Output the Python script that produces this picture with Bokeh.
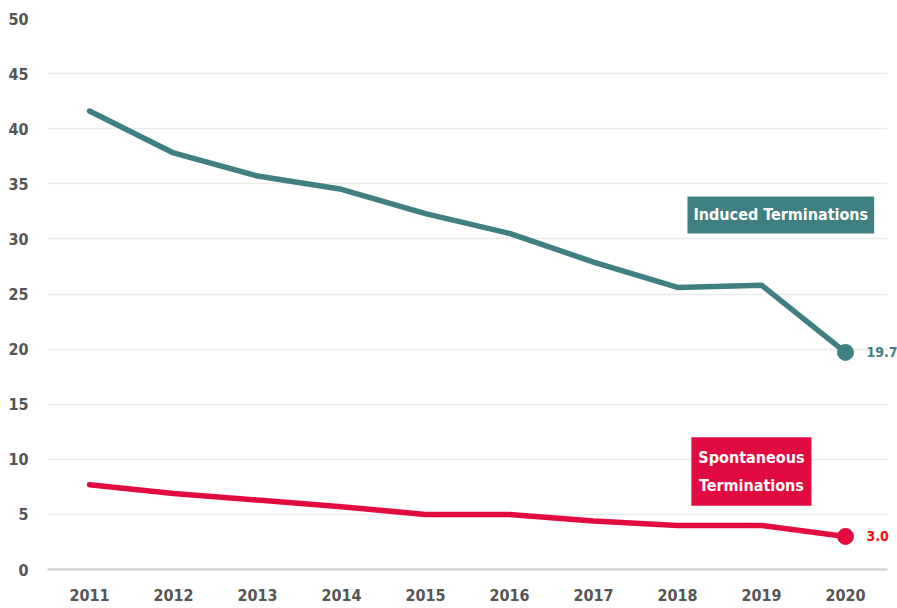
from bokeh.plotting import figure
from bokeh.models import Range1d, Label, FixedTicker
from bokeh.embed import file_html
from bokeh.resources import INLINE

years = [2011, 2012, 2013, 2014, 2015, 2016, 2017, 2018, 2019, 2020]
year_labels = ["2011", "2012", "2013", "2014", "2015", "2016", "2017", "2018", "2019", "2020"]
induced = [41.6, 37.8, 35.7, 34.5, 32.3, 30.5, 27.9, 25.6, 25.8, 19.7]
spontaneous = [7.7, 6.9, 6.3, 5.7, 5.0, 5.0, 4.4, 4.0, 4.0, 3.0]
y_ticks = [0, 5, 10, 15, 20, 25, 30, 35, 40, 45, 50]

TEAL = "#407f82"
RED = "#e20b40"
FONT = "DejaVu Sans Condensed"

x_lo = years[0] - 0.5
x_hi = years[-1] + 0.5
# frame: 850 px wide, 84 px per year -> small extra room right of the last cell
p = figure(width=897, height=607, x_range=Range1d(x_lo, x_lo + 850 / 84), y_range=Range1d(0, 50),
           output_backend="svg", toolbar_location=None,
           min_border_left=47, min_border_right=0, min_border_top=18, min_border_bottom=38)
p.outline_line_color = None
p.background_fill_color = "white"
p.border_fill_color = "white"

p.xgrid.grid_line_color = None
p.ygrid.grid_line_color = "#e9e9e9"
p.ygrid.grid_line_width = 1.5
p.ygrid.cross_bounds = (x_lo, x_hi)
p.yaxis.ticker = y_ticks
p.xaxis.ticker = FixedTicker(ticks=years)
p.xaxis.major_label_overrides = {y: s for y, s in zip(years, year_labels)}
p.xaxis.bounds = (x_lo, x_hi)
p.yaxis.axis_line_color = None
p.xaxis.axis_line_color = "#d4d4d4"
p.xaxis.axis_line_width = 2.5
for ax in (p.xaxis, p.yaxis):
    ax.major_tick_line_color = None
    ax.minor_tick_line_color = None
    ax.major_tick_out = 0
    ax.major_tick_in = 0
    ax.minor_tick_out = 0
    ax.minor_tick_in = 0
    ax.major_label_text_font = FONT
    ax.major_label_text_font_style = "bold"
    ax.major_label_text_font_size = "16px"
    ax.major_label_text_color = "#555555"
p.yaxis.major_label_standoff = 19
p.xaxis.major_label_standoff = 19

p.line(years, induced, line_color=TEAL, line_width=5.5, line_cap="round", line_join="round")
p.line(years, spontaneous, line_color=RED, line_width=5.5, line_cap="round", line_join="round")

p.scatter([years[-1]], [induced[-1]], size=16, color=TEAL)
p.scatter([years[-1]], [spontaneous[-1]], size=16, color=RED)

p.add_layout(Label(x=years[-1], y=induced[-1], text=f"{induced[-1]:.1f}", x_offset=21,
                   text_font=FONT, text_font_style="bold", text_font_size="14px",
                   text_color=TEAL, text_baseline="middle", text_align="left"))
p.add_layout(Label(x=years[-1], y=spontaneous[-1], text=f"{spontaneous[-1]:.1f}", x_offset=21,
                   text_font=FONT, text_font_style="bold", text_font_size="14px",
                   text_color="#f20d0d", text_baseline="middle", text_align="left"))

p.add_layout(Label(x=2019.23, y=32.17, text="Induced Terminations", text_align="center",
                   text_baseline="middle", text_font=FONT, text_font_style="bold",
                   text_font_size="16px", text_color="white",
                   background_fill_color=TEAL, padding=(6, 9)))
p.add_layout(Label(x=2018.88, y=8.89, text="Spontaneous\nTerminations", text_align="center",
                   text_baseline="middle", text_font=FONT, text_font_style="bold",
                   text_font_size="16px", text_color="white", text_line_height=1.45,
                   background_fill_color=RED, padding=(7, 11)))

open("out.html", "w").write(file_html(p, INLINE))
